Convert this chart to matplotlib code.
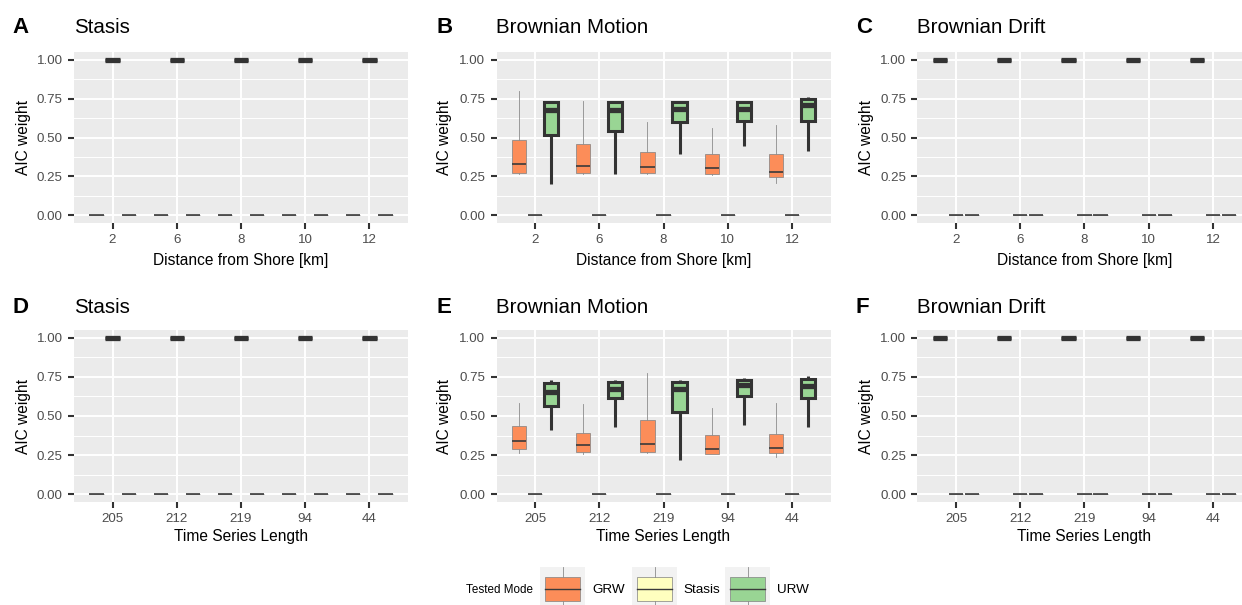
import numpy as np
import matplotlib
matplotlib.use('Agg')
import matplotlib.pyplot as plt
from matplotlib.patches import Rectangle

plt.rcParams['font.family'] = ['Liberation Sans', 'DejaVu Sans']

W, H = 1242, 605

# categories on the x axis
dist_labels = ['2', '6', '8', '10', '12']
length_labels = ['205', '212', '219', '94', '44']

models = ['GRW', 'Stasis', 'URW']
model_colors = {'GRW': '#FC8D59', 'Stasis': '#FFFFBF', 'URW': '#99D594'}
model_offsets = {'GRW': -0.25, 'Stasis': 0.0, 'URW': 0.25}

# Brownian motion, distance from shore (panel B)
bm_dist_grw_whislo = [0.265, 0.265, 0.265, 0.260, 0.205]
bm_dist_grw_q1 = [0.272, 0.270, 0.270, 0.265, 0.245]
bm_dist_grw_med = [0.330, 0.315, 0.310, 0.307, 0.280]
bm_dist_grw_q3 = [0.484, 0.458, 0.404, 0.397, 0.397]
bm_dist_grw_whishi = [0.800, 0.737, 0.597, 0.560, 0.583]

bm_dist_urw_whislo = [0.204, 0.265, 0.397, 0.443, 0.415]
bm_dist_urw_q1 = [0.518, 0.540, 0.598, 0.608, 0.608]
bm_dist_urw_med = [0.678, 0.678, 0.685, 0.685, 0.710]
bm_dist_urw_q3 = [0.726, 0.726, 0.726, 0.726, 0.748]
bm_dist_urw_whishi = [0.735, 0.735, 0.735, 0.735, 0.760]

# Brownian motion, time series length (panel E)
bm_len_grw_whislo = [0.262, 0.260, 0.265, 0.255, 0.240]
bm_len_grw_q1 = [0.286, 0.270, 0.270, 0.260, 0.262]
bm_len_grw_med = [0.340, 0.312, 0.318, 0.290, 0.297]
bm_len_grw_q3 = [0.436, 0.391, 0.473, 0.376, 0.383]
bm_len_grw_whishi = [0.585, 0.574, 0.774, 0.552, 0.580]

bm_len_urw_whislo = [0.413, 0.430, 0.219, 0.445, 0.430]
bm_len_urw_q1 = [0.563, 0.613, 0.527, 0.630, 0.617]
bm_len_urw_med = [0.655, 0.675, 0.675, 0.700, 0.690]
bm_len_urw_q3 = [0.709, 0.720, 0.720, 0.730, 0.735]
bm_len_urw_whishi = [0.730, 0.730, 0.730, 0.740, 0.755]

# AIC weight of a model that is always chosen / never chosen
always = [1.0, 1.0, 1.0, 1.0, 1.0]
never = [0.0, 0.0, 0.0, 0.0, 0.0]


def const_stats(vals):
    return [dict(whislo=v, q1=v, med=v, q3=v, whishi=v, fliers=[]) for v in vals]


def make_stats(lo, q1, med, q3, hi):
    return [dict(whislo=a, q1=b, med=c, q3=d, whishi=e, fliers=[])
            for a, b, c, d, e in zip(lo, q1, med, q3, hi)]


bm_dist_grw = make_stats(bm_dist_grw_whislo, bm_dist_grw_q1, bm_dist_grw_med, bm_dist_grw_q3, bm_dist_grw_whishi)
bm_dist_urw = make_stats(bm_dist_urw_whislo, bm_dist_urw_q1, bm_dist_urw_med, bm_dist_urw_q3, bm_dist_urw_whishi)
bm_len_grw = make_stats(bm_len_grw_whislo, bm_len_grw_q1, bm_len_grw_med, bm_len_grw_q3, bm_len_grw_whishi)
bm_len_urw = make_stats(bm_len_urw_whislo, bm_len_urw_q1, bm_len_urw_med, bm_len_urw_q3, bm_len_urw_whishi)

# (letter, title, xlabel, tick labels, true model, stats per model)
panels = [
    ('A', 'Stasis', 'Distance from Shore [km]', dist_labels, 'Stasis',
     {'GRW': const_stats(never), 'Stasis': const_stats(always), 'URW': const_stats(never)}),
    ('B', 'Brownian Motion', 'Distance from Shore [km]', dist_labels, 'URW',
     {'GRW': bm_dist_grw, 'Stasis': const_stats(never), 'URW': bm_dist_urw}),
    ('C', 'Brownian Drift', 'Distance from Shore [km]', dist_labels, 'GRW',
     {'GRW': const_stats(always), 'Stasis': const_stats(never), 'URW': const_stats(never)}),
    ('D', 'Stasis', 'Time Series Length', length_labels, 'Stasis',
     {'GRW': const_stats(never), 'Stasis': const_stats(always), 'URW': const_stats(never)}),
    ('E', 'Brownian Motion', 'Time Series Length', length_labels, 'URW',
     {'GRW': bm_len_grw, 'Stasis': const_stats(never), 'URW': bm_len_urw}),
    ('F', 'Brownian Drift', 'Time Series Length', length_labels, 'GRW',
     {'GRW': const_stats(always), 'Stasis': const_stats(never), 'URW': const_stats(never)}),
]

fig = plt.figure(figsize=(W / 100, H / 100), dpi=100, facecolor='white')

col_left = [74, 496.5, 917.5]
col_letter = [12, 437, 856]
row_top = [52, 330]
row_bottom = [223, 502]
row_base = [33, 313]
row_xlab = [260, 537]
ylab_x = [23.5, 445, 867]
pw = 334

thin = dict(box=dict(edgecolor='#808080', linewidth=0.5),
            med=dict(color='#3a3a3a', linewidth=1.2, solid_capstyle='butt'),
            whis=dict(color='#8c8c8c', linewidth=0.6))
thick = dict(box=dict(edgecolor='#333333', linewidth=2.2, joinstyle='miter'),
             med=dict(color='#333333', linewidth=3.8, solid_capstyle='butt'),
             whis=dict(color='#333333', linewidth=2.2, solid_capstyle='butt'))

for i, (letter, title, xlab, ticks, truth, stats) in enumerate(panels):
    r, c = divmod(i, 3)
    left, top, bottom = col_left[c], row_top[r], row_bottom[r]
    ax = fig.add_axes([left / W, 1 - bottom / H, pw / W, (bottom - top) / H])
    ax.set_facecolor('#EBEBEB')
    for s in ax.spines.values():
        s.set_visible(False)

    x = np.arange(1, 6)
    for m in models:
        st = thick if m == truth else thin
        bp = ax.bxp(stats[m], positions=x + model_offsets[m], widths=0.22,
                    patch_artist=True, showcaps=False, showfliers=False,
                    boxprops=dict(facecolor=model_colors[m], **st['box']),
                    medianprops=st['med'], whiskerprops=st['whis'],
                    manage_ticks=False, zorder=3 if m == truth else 2)

    ax.set_xlim(0.4, 5.6)
    ax.set_ylim(-0.05, 1.05)
    ax.set_xticks(x)
    ax.set_xticklabels(ticks)
    ax.set_yticks([0, 0.25, 0.5, 0.75, 1.0])
    ax.set_yticklabels(['0.00', '0.25', '0.50', '0.75', '1.00'])
    ax.set_yticks([0.125, 0.375, 0.625, 0.875], minor=True)
    ax.grid(True, which='major', color='white', linewidth=1.4, zorder=0)
    ax.grid(True, which='minor', axis='y', color='white', linewidth=0.7, zorder=0)
    ax.set_axisbelow(True)
    ax.tick_params(which='major', length=4.5, width=1.5, color='#333333',
                   labelsize=9.6, labelcolor='#4D4D4D', pad=3.6)
    ax.tick_params(which='minor', length=0)

    ax.set_xlabel(xlab, fontsize=11.2, color='black')
    ax.xaxis.set_label_coords(0.5, (bottom - row_xlab[r]) / (bottom - top))
    ax.xaxis.label.set_verticalalignment('center')
    ax.set_ylabel('AIC weight', fontsize=11.2, color='black')
    ax.yaxis.set_label_coords((ylab_x[c] - left) / pw, 0.5)
    ax.yaxis.label.set_verticalalignment('center')

    fig.text(col_letter[c] / W, 1 - row_base[r] / H, letter, fontsize=16,
             fontweight='bold', va='baseline', ha='left')
    fig.text(left / W, 1 - row_base[r] / H, title, fontsize=14.8,
             va='baseline', ha='left')

# legend drawn in pixel coordinates
lax = fig.add_axes([0, 0, 1, 1], facecolor='none')
lax.set_xlim(0, W)
lax.set_ylim(H, 0)
lax.axis('off')
lax.text(533, 590, 'Tested Mode', fontsize=8.4, ha='right', va='center')
key_x = [540, 632, 725]
label_x = [592, 683, 777]
for m, kx, tx in zip(models, key_x, label_x):
    lax.add_patch(Rectangle((kx, 567), 45, 45, facecolor='#F2F2F2', edgecolor='none'))
    cx = kx + 22.5
    lax.plot([cx, cx], [567, 577], color='#8c8c8c', lw=0.6)
    lax.plot([cx, cx], [601, 612], color='#8c8c8c', lw=0.6)
    lax.add_patch(Rectangle((kx + 5, 577), 35, 24, facecolor=model_colors[m],
                            edgecolor='#808080', lw=0.5))
    lax.plot([kx + 5, kx + 40], [589, 589], color='#3a3a3a', lw=1.0)
    lax.text(tx, 590, m, fontsize=9.7, ha='left', va='center')

fig.savefig('out.png', dpi=100)
